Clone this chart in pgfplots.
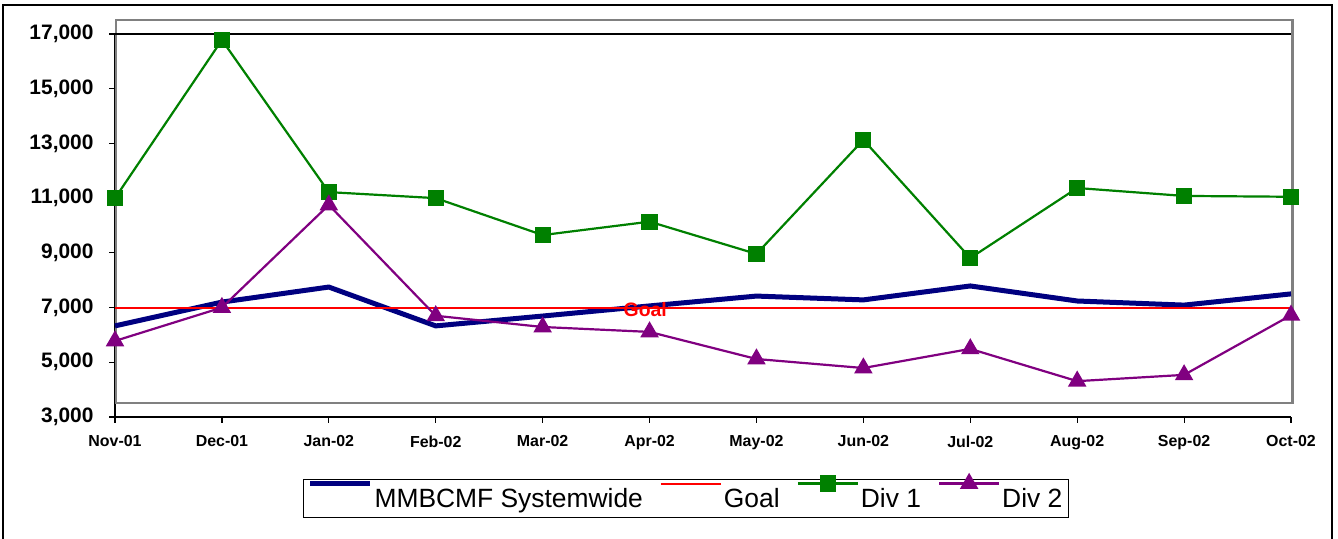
\documentclass[border=0pt]{standalone}
\usepackage{pgfplots}
\pgfplotsset{compat=1.18}
\usepackage{fontspec}
\setmainfont{Liberation Sans}
\definecolor{navy}{RGB}{0,0,128}
\definecolor{dgreen}{RGB}{0,128,0}
\definecolor{purp}{RGB}{128,0,128}
\definecolor{framegray}{RGB}{128,128,128}
\begin{document}
\begin{tikzpicture}[x=1bp,y=1bp]
\useasboundingbox (0,0) rectangle (1338,539);
\draw[line width=1.3bp] (3,-10) -- (3,534) -- (1332,534) -- (1332,-10);
\begin{axis}[
  at={(115bp,122bp)}, anchor=south west,
  scale only axis, width=1176bp, height=383bp,
  xmin=0, xmax=11, ymin=3000, ymax=17000,
  clip=false,
  axis x line*=bottom, axis y line*=left,
  axis line style={line width=1.3bp, -},
  xtick={0,...,11},
  xticklabels={Nov-01,Dec-01,Jan-02,Feb-02,Mar-02,Apr-02,May-02,Jun-02,Jul-02,Aug-02,Sep-02,Oct-02},
  ytick={3000,5000,...,17000},
  scaled y ticks=false,
  tick align=outside, major tick length=6bp,
  tick style={line width=1.2bp, black},
  x tick label style={font=\fontsize{16}{17}\selectfont\bfseries, yshift=-9bp},
  y tick label style={font=\fontsize{21}{22}\selectfont\bfseries, xshift=-12bp},
  /pgf/number format/assume math mode=true,
  /pgf/number format/1000 sep={,},
  legend columns=4,
  legend style={at={(0.4855,-0.2128)}, anchor=center, draw=black, line width=1.2bp,
    font=\fontsize{26.5}{28}\selectfont,
    /tikz/every even column/.append style={column sep=15bp},
    inner ysep=6.8bp, inner xsep=4bp},
  legend image code/.code={\begin{pgfinterruptboundingbox}\draw[mark repeat=2,mark phase=2,#1] plot coordinates {(0bp,15bp)(30bp,15bp)(60bp,15bp)};\end{pgfinterruptboundingbox}\path (0bp,0bp) (60bp,0bp);},
]
\draw[framegray, line width=2.6bp] (axis cs:0.01,17511) rectangle (axis cs:11.015,3512);
\draw[line width=1.3bp] (axis cs:0,17000) -- (axis cs:11,17000);
\addplot[navy, line width=5bp, line join=round] coordinates {
(0,6330) (1,7200) (2,7750) (3,6330) (4,6690) (5,7060) (6,7420) (7,7280) (8,7790) (9,7240) (10,7090) (11,7500)};
\addlegendentry{MMBCMF Systemwide}
\addplot[red, line width=2bp] coordinates {
(0,7000) (1,7000) (2,7000) (3,7000) (4,7000) (5,7000) (6,7000) (7,7000) (8,7000) (9,7000) (10,7000) (11,7000)};
\addlegendentry{Goal}
\addplot[dgreen, line width=2.2bp, mark=square*, mark size=7bp, mark options={solid, fill=dgreen}] coordinates {
(0,11000) (1,16780) (2,11220) (3,11000) (4,9650) (5,10140) (6,8960) (7,13130) (8,8810) (9,11370) (10,11080) (11,11050)};
\addlegendentry{Div 1}
\addplot[purp, line width=2.2bp, mark=triangle*, mark size=8.5bp, mark options={solid, fill=purp}] coordinates {
(0,5780) (1,7000) (2,10750) (3,6700) (4,6290) (5,6110) (6,5120) (7,4790) (8,5490) (9,4310) (10,4540) (11,6720)};
\addlegendentry{Div 2}
\node[text=red, font=\fontsize{19.5}{20}\selectfont\bfseries] at (axis cs:4.96,6911) {Goal};
\end{axis}
\end{tikzpicture}
\end{document}
